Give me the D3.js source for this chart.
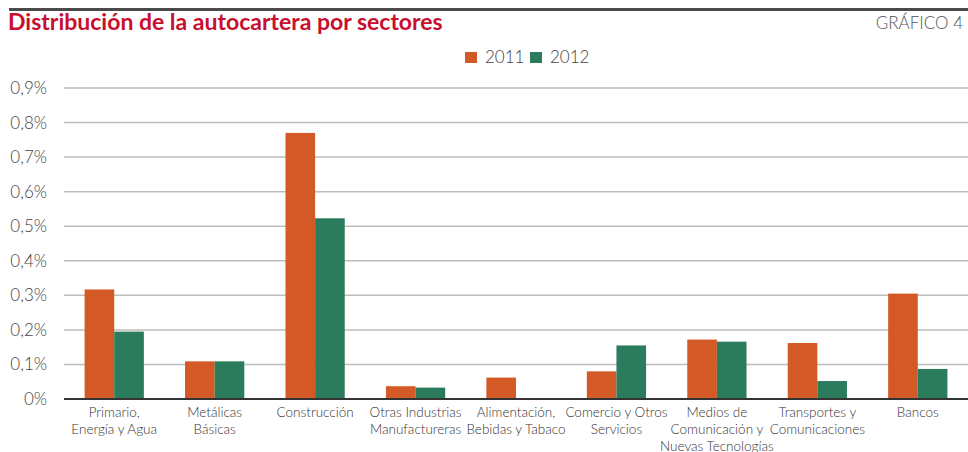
<!DOCTYPE html>
<html>
<head>
<meta charset="utf-8">
<script src="https://cdn.jsdelivr.net/npm/d3@7"></script>
<style>
  body { margin: 0; background: #fff; }
  svg text { font-family: Lato, "Open Sans", sans-serif; }
</style>
</head>
<body>
<svg id="chart" width="968" height="452"></svg>
<script>
const categories = [
  ["Primario,", "Energía y Agua"],
  ["Metálicas", "Básicas"],
  ["Construcción"],
  ["Otras Industrias", "Manufactureras"],
  ["Alimentación,", "Bebidas y Tabaco"],
  ["Comercio y Otros", "Servicios"],
  ["Medios de", "Comunicación y", "Nuevas Tecnologías"],
  ["Transportes y", "Comunicaciones"],
  ["Bancos"]
];
const series = ["2011", "2012"];
const values2011 = [0.317, 0.109, 0.770, 0.037, 0.062, 0.080, 0.172, 0.162, 0.305];
const values2012 = [0.195, 0.109, 0.523, 0.033, 0, 0.155, 0.166, 0.052, 0.087];
const yTicks = [0, 0.1, 0.2, 0.3, 0.4, 0.5, 0.6, 0.7, 0.8, 0.9];

const colors = { "2011": "#d35a27", "2012": "#2b7c5c" };

const svg = d3.select("#chart");
const margin = { top: 88, right: 0, bottom: 53, left: 64 };
const width = 968;
const height = 452;
const innerWidth = width - margin.left - margin.right;
const innerHeight = height - margin.top - margin.bottom;

// header
svg.append("line")
  .attr("x1", 9).attr("x2", 968).attr("y1", 9.5).attr("y2", 9.5)
  .attr("stroke", "#4a4a4a").attr("stroke-width", 3);

svg.append("text")
  .attr("x", 8).attr("y", 30)
  .attr("fill", "#c8102e")
  .attr("font-weight", "bold")
  .attr("font-size", 23)
  .text("Distribución de la autocartera por sectores");

svg.append("text")
  .attr("x", 963).attr("y", 29)
  .attr("text-anchor", "end")
  .attr("fill", "#555")
  .attr("font-weight", 300)
  .attr("font-size", 17)
  .text("GRÁFICO 4");

// legend
const legendX = d3.scaleOrdinal().domain(series).range([465, 530]);
svg.selectAll("rect.legend-swatch")
  .data(series)
  .join("rect")
  .attr("class", "legend-swatch")
  .attr("x", (d) => legendX(d))
  .attr("y", 52)
  .attr("width", 12)
  .attr("height", 11)
  .attr("fill", (d) => colors[d]);
svg.selectAll("text.legend-label")
  .data(series)
  .join("text")
  .attr("class", "legend-label")
  .attr("x", (d) => legendX(d) + 20)
  .attr("y", 63)
  .attr("font-size", 17)
  .attr("font-weight", 300)
  .attr("fill", "#444")
  .text((d) => d);

const chartG = svg.append("g")
  .attr("transform", `translate(${margin.left},${margin.top})`);

const x0 = d3.scaleBand()
  .domain(d3.range(categories.length))
  .range([0, innerWidth])
  .paddingInner(0.41)
  .paddingOuter(0.205);

const x1 = d3.scaleBand()
  .domain(series)
  .range([0, x0.bandwidth()]);

const y = d3.scaleLinear().domain([0, 0.9]).range([innerHeight, 0]);

// grid
chartG.append("g")
  .selectAll("line")
  .data(yTicks.slice(1))
  .join("line")
  .attr("x1", 0).attr("x2", innerWidth)
  .attr("y1", (d) => y(d)).attr("y2", (d) => y(d))
  .attr("stroke", "#bdbdbd").attr("stroke-width", 1.5);

// y tick labels
chartG.append("g")
  .selectAll("text")
  .data(yTicks)
  .join("text")
  .attr("x", -17)
  .attr("y", (d) => y(d))
  .attr("dy", "0.35em")
  .attr("text-anchor", "end")
  .attr("font-size", 17)
  .attr("font-weight", 300)
  .attr("fill", "#444")
  .text((d) => (d === 0 ? "0%" : d3.format(".1f")(d).replace(".", ",") + "%"));

// bars
const rows = categories.map((c, i) => ({
  i,
  vals: [
    { s: "2011", v: values2011[i] },
    { s: "2012", v: values2012[i] }
  ]
}));

chartG.append("g")
  .selectAll("g")
  .data(rows)
  .join("g")
  .attr("transform", (d) => `translate(${x0(d.i)},0)`)
  .selectAll("rect")
  .data((d) => d.vals.filter((e) => e.v > 0))
  .join("rect")
  .attr("x", (d) => x1(d.s))
  .attr("width", x1.bandwidth())
  .attr("y", (d) => y(d.v))
  .attr("height", (d) => innerHeight - y(d.v))
  .attr("fill", (d) => colors[d.s]);

// baseline
chartG.append("line")
  .attr("x1", 0).attr("x2", innerWidth)
  .attr("y1", innerHeight).attr("y2", innerHeight)
  .attr("stroke", "#333").attr("stroke-width", 2);

// category labels
const labelG = chartG.append("g")
  .selectAll("text")
  .data(categories)
  .join("text")
  .attr("text-anchor", "middle")
  .attr("font-size", 13.5)
  .attr("font-weight", 300)
  .attr("fill", "#333")
  .attr("x", (d, i) => x0(i) + x0.bandwidth() / 2)
  .attr("y", innerHeight + 18);

labelG.selectAll("tspan")
  .data((d) => d)
  .join("tspan")
  .attr("x", function () { return this.parentNode.getAttribute("x"); })
  .attr("dy", (d, j) => (j === 0 ? 0 : 17))
  .text((d) => d);
</script>
</body>
</html>
